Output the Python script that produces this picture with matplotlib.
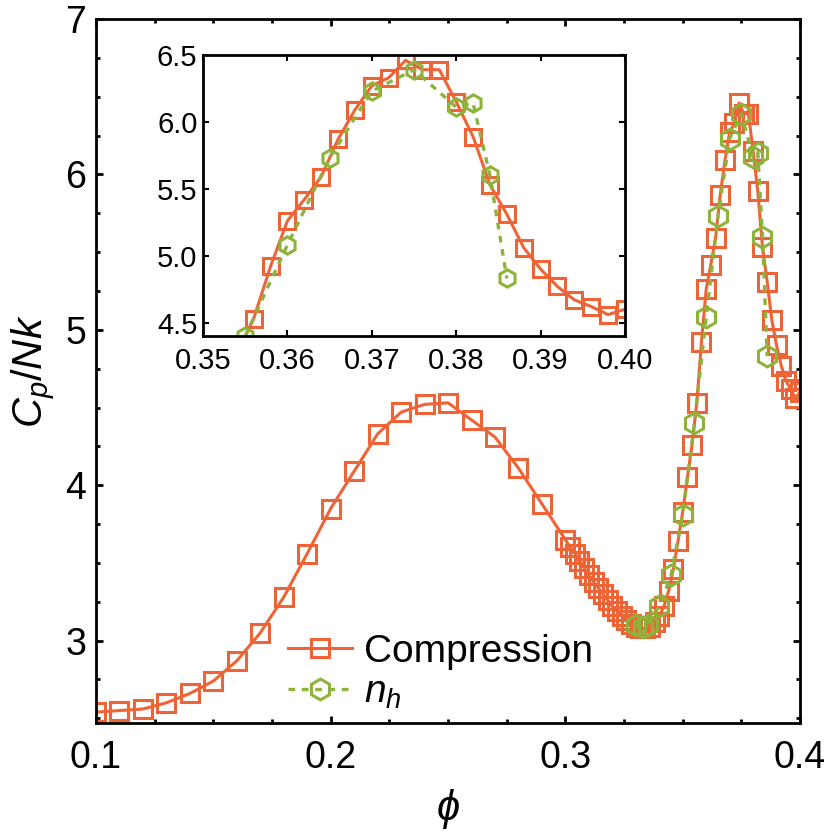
import matplotlib
matplotlib.use('Agg')
import matplotlib.pyplot as plt

# 数据
phi_comp = [0.10, 0.11, 0.12, 0.13, 0.14, 0.15, 0.16, 0.17, 0.18, 0.19,
            0.20, 0.21, 0.22, 0.23, 0.24, 0.25, 0.26, 0.27, 0.28, 0.29,
            0.300, 0.302, 0.304, 0.306, 0.308, 0.310, 0.312, 0.314, 0.316, 0.318,
            0.320, 0.322, 0.324, 0.326, 0.328, 0.330, 0.332, 0.334, 0.336, 0.338,
            0.340, 0.342, 0.344, 0.346, 0.348, 0.350, 0.352, 0.354, 0.356, 0.358,
            0.360, 0.362, 0.364, 0.366, 0.368, 0.370, 0.372, 0.374, 0.376, 0.378,
            0.380, 0.382, 0.384, 0.386, 0.388, 0.390, 0.392, 0.394, 0.396, 0.398,
            0.400]
cp_comp = [2.54, 2.55, 2.56, 2.60, 2.66, 2.74, 2.87, 3.05, 3.28, 3.56,
           3.85, 4.09, 4.33, 4.47, 4.52, 4.53, 4.42, 4.31, 4.11, 3.88,
           3.65, 3.60, 3.56, 3.51, 3.47, 3.42, 3.38, 3.34, 3.30, 3.26,
           3.22, 3.19, 3.16, 3.13, 3.11, 3.09, 3.08, 3.08, 3.09, 3.12,
           3.16, 3.22, 3.32, 3.46, 3.64, 3.83, 4.05, 4.26, 4.53, 4.92,
           5.26, 5.42, 5.59, 5.87, 6.09, 6.27, 6.33, 6.46, 6.39, 6.39,
           6.15, 5.89, 5.53, 5.31, 5.06, 4.90, 4.77, 4.67, 4.62, 4.56,
           4.60]

phi_nh = [0.330, 0.333, 0.335, 0.340, 0.345, 0.350, 0.355, 0.360,
          0.365, 0.370, 0.375, 0.380, 0.382, 0.384, 0.386]
cp_nh = [3.10, 3.09, 3.10, 3.22, 3.42, 3.81, 4.40, 5.08,
         5.73, 6.23, 6.39, 6.11, 6.14, 5.60, 4.83]

main_xticks = [0.1, 0.2, 0.3, 0.4]
main_yticks = [3, 4, 5, 6, 7]
inset_xticks = [0.35, 0.36, 0.37, 0.38, 0.39, 0.40]
inset_yticks = [4.5, 5.0, 5.5, 6.0, 6.5]

ORANGE = '#EE6436'
GREEN = '#8DB33A'

plt.rcParams['font.family'] = ['Liberation Sans', 'DejaVu Sans']
plt.rcParams['mathtext.fontset'] = 'custom'
plt.rcParams['mathtext.rm'] = 'Liberation Sans'
plt.rcParams['mathtext.it'] = 'Liberation Sans:italic'
plt.rcParams['mathtext.bf'] = 'Liberation Sans:bold'

fig = plt.figure(figsize=(8.3, 8.4), dpi=100)
ax = fig.add_axes([0.1157, 0.1393, 0.8482, 0.8381])

# 主图
ax.plot(phi_comp, cp_comp, '-', color=ORANGE, lw=2.2, marker='s', ms=13.5,
        mfc='none', mec=ORANGE, mew=2.2, label='Compression')
ax.plot(phi_nh, cp_nh, '--', color=GREEN, lw=2.4, dashes=(2.0, 2.0), marker='h',
        ms=15, mfc='none', mec=GREEN, mew=2.2, label='$n_h$')

ax.set_xlim(0.1, 0.4)
ax.set_ylim(2.47, 7)
ax.set_xticks(main_xticks)
ax.set_xticklabels(['0.1', '0.2', '0.3', '0.4'])
ax.set_yticks(main_yticks)
ax.set_xticks([0.125, 0.15, 0.175, 0.225, 0.25, 0.275, 0.325, 0.35, 0.375], minor=True)
ax.set_yticks([2.5, 2.75, 3.25, 3.5, 3.75, 4.25, 4.5, 4.75, 5.25, 5.5, 5.75,
               6.25, 6.5, 6.75], minor=True)
ax.tick_params(which='both', direction='in', top=True, right=True, width=2)
ax.tick_params(which='major', length=5, labelsize=27)
ax.tick_params(which='minor', length=3)
ax.tick_params(axis='x', which='major', pad=12)
ax.tick_params(axis='y', which='major', pad=7)
for s in ax.spines.values():
    s.set_linewidth(2)

ax.set_xlabel(r'$\phi$', fontsize=30, labelpad=8)
ax.set_ylabel(r'$C_p/Nk$', fontsize=30, labelpad=6)

leg = ax.legend(loc='lower left', bbox_to_anchor=(0.24, -0.016), frameon=False,
                fontsize=28, handlelength=1.65, handletextpad=0.3,
                labelspacing=0.12, numpoints=1, borderaxespad=0.2)

# 插图
ins = fig.add_axes([0.2446, 0.6, 0.5084, 0.3345])
ins.plot(phi_comp, cp_comp, '-', color=ORANGE, lw=2.2, marker='s', ms=11.5,
         mfc='none', mec=ORANGE, mew=2.2)
ins.plot(phi_nh, cp_nh, '--', color=GREEN, lw=2.4, dashes=(2.0, 2.0), marker='h',
         ms=12.5, mfc='none', mec=GREEN, mew=2.2)
ins.set_xlim(0.35, 0.40)
ins.set_ylim(4.4, 6.5)
ins.set_xticks(inset_xticks)
ins.set_xticklabels(['0.35', '0.36', '0.37', '0.38', '0.39', '0.40'])
ins.set_yticks(inset_yticks)
ins.set_yticklabels(['4.5', '5.0', '5.5', '6.0', '6.5'])
ins.tick_params(which='both', direction='in', top=True, right=True, width=1.5,
                length=4, labelsize=21)
ins.tick_params(axis='x', pad=8)
ins.tick_params(axis='y', pad=4)
for s in ins.spines.values():
    s.set_linewidth(2)

fig.savefig('out.png', dpi=100)
